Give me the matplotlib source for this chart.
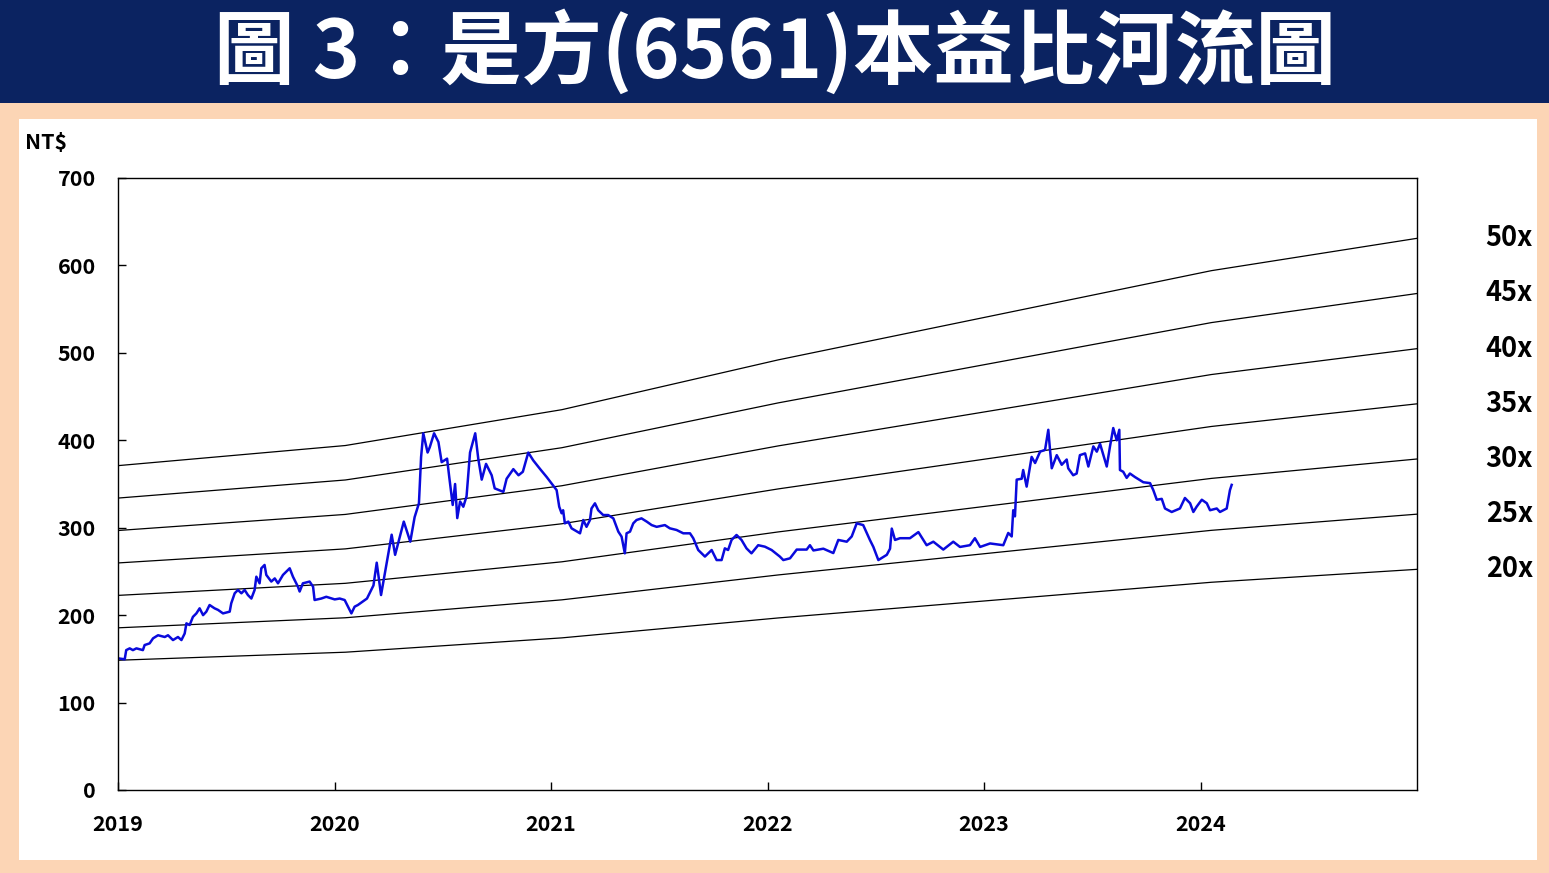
import matplotlib
matplotlib.use('Agg')
import matplotlib.pyplot as plt
import matplotlib.transforms as mtransforms

plt.rcParams['font.family'] = ['Noto Sans CJK TC', 'DejaVu Sans']

# ---------------- data ----------------
title = '圖 3：是方(6561)本益比河流圖'

# stock price (decimal year, NT$)
price_t = [2019.000, 2019.031, 2019.038, 2019.054, 2019.069, 2019.085, 2019.115, 2019.123, 2019.146, 2019.162,
           2019.185, 2019.216, 2019.231, 2019.254, 2019.277, 2019.293, 2019.308, 2019.316, 2019.331, 2019.346,
           2019.362, 2019.377, 2019.393, 2019.408, 2019.423, 2019.446, 2019.462, 2019.485, 2019.516, 2019.523,
           2019.539, 2019.554, 2019.570, 2019.585, 2019.600, 2019.616, 2019.631, 2019.639, 2019.654, 2019.662,
           2019.677, 2019.685, 2019.708, 2019.724, 2019.739, 2019.762, 2019.793, 2019.808, 2019.831, 2019.839,
           2019.854, 2019.885, 2019.901, 2019.908, 2019.939, 2019.962, 2020.001, 2020.024, 2020.047, 2020.078,
           2020.093, 2020.108, 2020.15, 2020.18, 2020.195,
           2020.215, 2020.24, 2020.264, 2020.28, 2020.32, 2020.35, 2020.37, 2020.39, 2020.40, 2020.41,
           2020.43, 2020.44, 2020.46, 2020.48, 2020.495, 2020.52, 2020.53, 2020.546, 2020.557, 2020.567,
           2020.58, 2020.595, 2020.61, 2020.626, 2020.65, 2020.664, 2020.68, 2020.70, 2020.726, 2020.74,
           2020.78, 2020.795, 2020.826, 2020.85, 2020.87, 2020.895, 2020.918, 2020.95, 2020.98,
           2021.026, 2021.038, 2021.049, 2021.056, 2021.064, 2021.080, 2021.095, 2021.134, 2021.149, 2021.164,
           2021.180, 2021.187, 2021.203, 2021.218, 2021.241, 2021.264, 2021.288, 2021.311, 2021.326, 2021.341,
           2021.349, 2021.365, 2021.380, 2021.395, 2021.418, 2021.442, 2021.465, 2021.488, 2021.526, 2021.549,
           2021.580, 2021.611, 2021.642, 2021.657, 2021.680, 2021.711, 2021.742, 2021.765, 2021.788, 2021.803,
           2021.818, 2021.834, 2021.857, 2021.880, 2021.903, 2021.926, 2021.957, 2021.988, 2022.019, 2022.057,
           2022.073, 2022.104, 2022.135, 2022.181, 2022.196, 2022.212, 2022.258, 2022.304, 2022.327, 2022.366,
           2022.389, 2022.412, 2022.442, 2022.473, 2022.489, 2022.512, 2022.551, 2022.566, 2022.574, 2022.589,
           2022.612, 2022.658, 2022.697, 2022.735, 2022.766, 2022.812, 2022.858, 2022.889, 2022.935, 2022.958,
           2022.982, 2023.028, 2023.089, 2023.112, 2023.128, 2023.135, 2023.143, 2023.151, 2023.174, 2023.181,
           2023.197, 2023.220, 2023.236, 2023.259, 2023.282, 2023.297, 2023.305, 2023.313, 2023.336, 2023.359,
           2023.382, 2023.389, 2023.412, 2023.428, 2023.443, 2023.467, 2023.482, 2023.505, 2023.521, 2023.536,
           2023.567, 2023.582, 2023.597, 2023.613, 2023.625, 2023.628, 2023.643, 2023.659, 2023.674, 2023.697,
           2023.736, 2023.767, 2023.782, 2023.798, 2023.821, 2023.836, 2023.867, 2023.905, 2023.928, 2023.952,
           2023.967, 2023.982, 2024.006, 2024.029, 2024.044, 2024.075, 2024.090, 2024.121, 2024.136, 2024.144]
price_v = [150.6, 149.5, 160, 162, 160, 162, 160, 165.8, 167.7, 173.5,
           177, 175, 177, 171.5, 175, 171.5, 179, 190.6, 188.7, 198,
           202, 207.8, 200, 204, 211.6, 207.8, 206, 202, 204, 213.5,
           225, 228.8, 225, 228.8, 223, 219, 228.8, 244, 236.4, 253.6,
           257.4, 246, 238.4, 242, 236.4, 246, 253.6, 244, 232.6, 227,
           236.4, 238.4, 232.6, 217.3, 219, 221, 218, 219, 217.3, 202,
           209.7, 211.6, 219, 234, 260,
           223, 258, 292, 269, 307, 284, 312, 328, 381, 408,
           386, 392, 408, 398, 375, 379, 358, 326, 350, 311,
           330, 324, 336, 386, 408, 379, 355, 373, 360, 345,
           341, 356, 367, 360, 364, 386, 377, 367, 358,
           343, 324, 316.5, 320, 305, 307, 299.3, 293.6, 308.8, 301,
           308.8, 322, 327.9, 320, 314.5, 314.5, 310.7, 295.5, 289.8, 270.7,
           293.6, 295.5, 305, 308.8, 310.7, 307, 303, 301, 303, 299.3,
           297.4, 293.6, 293.6, 288, 274.5, 267, 274.5, 263, 263, 276.4,
           274.5, 286, 291.7, 286, 276.4, 270.7, 280, 278.3, 274.5, 267,
           263, 265, 275, 275, 280, 274, 276, 271, 286, 284,
           290, 305, 303, 286, 278, 263, 269, 276, 299, 286,
           288, 288, 295, 280, 284, 275, 284, 278, 280, 288,
           278, 282, 280, 294, 290, 320, 313, 355, 356, 366,
           347, 381, 374, 387, 389, 412, 389, 368, 383, 372,
           378, 368, 360, 362, 383, 385, 370, 393, 387, 396,
           370, 393, 414, 400, 412, 366, 364, 357, 362, 358,
           352, 351, 343, 332, 333, 322, 318, 322, 334, 328,
           318, 324, 332, 328, 320, 322, 318, 322, 343, 349]

# trailing EPS used for the PE bands (decimal year, NT$)
eps_t = [2019.0, 2020.05, 2021.05, 2022.05, 2023.05, 2024.05, 2025.0]
eps_v = [7.42, 7.88, 8.70, 9.84, 10.86, 11.88, 12.62]
multiples = [20, 25, 30, 35, 40, 45, 50]

years = [2019, 2020, 2021, 2022, 2023, 2024]
yticks = [0, 100, 200, 300, 400, 500, 600, 700]

# ---------------- figure ----------------
navy = '#0b2361'
peach = '#fcd5b5'

fig = plt.figure(figsize=(15.49, 8.73), dpi=100)
fig.patch.set_facecolor(peach)

# title bar and white panel
fig.add_artist(plt.Rectangle((0, 1 - 103 / 873), 1, 103 / 873, transform=fig.transFigure,
                             facecolor=navy, edgecolor='none', zorder=0))
fig.add_artist(plt.Rectangle((19 / 1549, 1 - 860 / 873), (1537 - 19) / 1549, (860 - 119) / 873,
                             transform=fig.transFigure, facecolor='white', edgecolor='none', zorder=0))
fig.text(0.5, 1 - 52 / 873, title, color='white', fontsize=58, fontweight='bold',
         ha='center', va='center')

ax = fig.add_axes([118 / 1549, 1 - 790 / 873, (1417 - 118) / 1549, (790 - 178) / 873])

for m in multiples:
    ax.plot(eps_t, [e * m for e in eps_v], color='black', lw=0.9)
ax.plot(price_t, price_v, color='#0a0adc', lw=1.8)

ax.set_xlim(2019, 2025)
ax.set_ylim(0, 700)
ax.set_xticks(years)
ax.set_xticklabels([str(y) for y in years])
ax.set_yticks(yticks)
ax.tick_params(axis='both', direction='in', length=6, width=1, labelsize=15.5)
ax.tick_params(axis='y', pad=16)
ax.tick_params(axis='x', pad=17)
for lab in ax.get_xticklabels() + ax.get_yticklabels():
    lab.set_fontweight('bold')
for s in ax.spines.values():
    s.set_linewidth(1)

fig.text(25 / 1549, 1 - 142 / 873, 'NT$', fontsize=15.5, fontweight='bold', ha='left', va='center')

# band labels on the right
trans = mtransforms.blended_transform_factory(fig.transFigure, ax.transData)
for m in multiples:
    ax.text(1533 / 1549, eps_v[-1] * m, f'{m}x', transform=trans, fontsize=19.5,
            fontweight='bold', ha='right', va='center', clip_on=False)

fig.savefig('out.png', dpi=100, facecolor=fig.get_facecolor())
